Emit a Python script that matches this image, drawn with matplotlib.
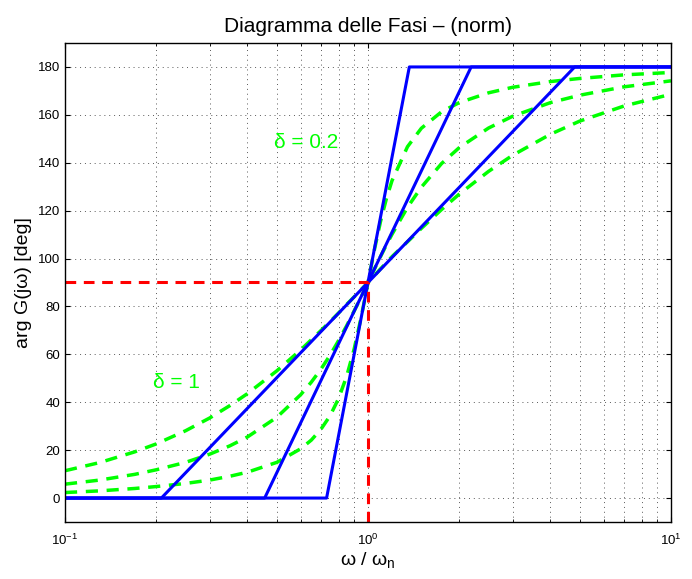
import numpy as np
import matplotlib.pyplot as plt
from matplotlib.ticker import LogLocator, NullFormatter, FixedLocator

plt.rcParams['font.family'] = ['Liberation Sans', 'DejaVu Sans']
plt.rcParams['mathtext.fontset'] = 'custom'
plt.rcParams['mathtext.rm'] = 'Liberation Sans'

# normalised frequency grid (omega / omega_n)
w = [0.1, 0.13, 0.17, 0.2, 0.25, 0.3, 0.35, 0.4, 0.5, 0.6, 0.65, 0.7, 0.75,
     0.8, 0.85, 0.9, 0.95, 1.0, 1.05, 1.1, 1.15, 1.2, 1.35, 1.5, 1.75, 2.0,
     2.5, 3.0, 4.0, 5.0, 7.0, 10.0]

# phase [deg], delta = 1, 0.5, 0.2
phase_d1 = [11.4, 14.8, 19.3, 22.6, 28.1, 33.4, 38.6, 43.6, 53.1, 61.9, 66.1,
            70.0, 73.7, 77.3, 80.8, 84.0, 87.1, 90.0, 92.9, 95.7, 98.3, 100.8,
            107.0, 112.6, 120.5, 126.9, 136.4, 143.1, 151.9, 157.4, 163.7, 168.6]
phase_d05 = [5.8, 7.5, 9.9, 11.8, 14.9, 18.3, 21.8, 25.5, 33.7, 43.2, 48.4,
             53.9, 59.7, 65.8, 71.9, 78.1, 84.1, 90.0, 95.6, 100.8, 105.7, 110.1,
             121.4, 129.8, 139.7, 146.3, 154.5, 159.4, 165.1, 168.2, 171.7, 174.2]
phase_d02 = [2.3, 3.0, 4.0, 4.8, 6.1, 7.5, 9.1, 10.8, 14.9, 20.6, 24.2,
             28.8, 34.4, 41.6, 50.8, 62.2, 75.6, 90.0, 103.7, 115.5, 125.0, 132.5,
             146.7, 154.4, 161.3, 165.1, 169.2, 171.5, 173.9, 175.2, 176.7, 177.7]

# asymptotic approximation: break frequencies for each delta
asym_w = [[0.1, 0.208, 4.81, 10.0],
          [0.1, 0.456, 2.19, 10.0],
          [0.1, 0.730, 1.369, 10.0]]
asym_phase = [0, 0, 180, 180]

fig = plt.figure(figsize=(6.92, 5.79), dpi=100)
ax = fig.add_axes([65 / 692, 1 - 522 / 579, 606 / 692, 479 / 579])

for ph in (phase_d1, phase_d05, phase_d02):
    ax.plot(w, ph, color=(0, 1, 0), linestyle='--', linewidth=2.5,
            dashes=(3.5, 2.5))
for aw in asym_w:
    ax.plot(aw, asym_phase, color=(0, 0, 1), linewidth=2.2)

ax.plot([0.1, 1.0], [90, 90], color='red', linestyle='--', linewidth=2.2,
        dashes=(3.5, 2.5))
ax.plot([1.0, 1.0], [-10, 90], color='red', linestyle='--', linewidth=2.2,
        dashes=(3.5, 2.5))

ax.set_xscale('log')
ax.set_xlim(0.1, 10)
ax.set_ylim(-10, 190)
ax.yaxis.set_major_locator(FixedLocator(np.arange(0, 181, 20)))
ax.xaxis.set_minor_locator(LogLocator(base=10, subs=np.arange(2, 10)))
ax.xaxis.set_minor_formatter(NullFormatter())

ax.grid(True, which='both', color='0.35', linestyle=(0, (1, 4)),
        linewidth=0.7)
ax.tick_params(which='both', direction='in', top=True, right=True,
               labelsize=9.5)
ax.tick_params(axis='x', pad=8)
for s in ax.spines.values():
    s.set_linewidth(1.0)

ax.text(0.49, 146, '\u03b4 = 0.2', color=(0, 1, 0), fontsize=15)
ax.text(0.195, 46, '\u03b4 = 1', color=(0, 1, 0), fontsize=15)

ax.set_title('Diagramma delle Fasi \u2013 (norm)', fontsize=15, pad=8)
ax.set_xlabel('\u03c9 / \u03c9$_{\\rm n}$', fontsize=14, labelpad=2)
ax.set_ylabel('arg G(j\u03c9) [deg]', fontsize=14, labelpad=4)

plt.savefig('out.png', dpi=100)
